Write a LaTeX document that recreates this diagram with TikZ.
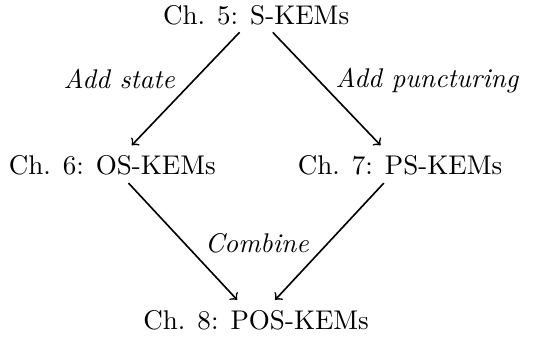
\documentclass[tikz,border=0pt]{standalone}
\usepackage{tikz}

\begin{document}
\begin{tikzpicture}[x=1cm,y=1cm,>=to,semithick,shorten >=1.5pt,
  chap/.style={inner sep=2.5pt},
  lbl/.style={font=\itshape,inner sep=2pt}]
\useasboundingbox (0,0) rectangle (7.215,4.394);
% chapters
\node[chap] (s)   at (3.33,4.20) {Ch. 5: S-KEMs};
\node[chap] (os)  at (1.46,2.24) {Ch. 6: OS-KEMs};
\node[chap] (ps)  at (5.20,2.24) {Ch. 7: PS-KEMs};
\node[chap] (pos) at (3.33,0.23) {Ch. 8: POS-KEMs};
% what each step adds
\node[lbl] (state) at (1.55,3.37) {Add state};
\node[lbl] (punct) at (5.55,3.35) {Add puncturing};
\node[lbl] (comb)  at (3.34,1.23) {Combine};
\draw[->] (s) -- (os);
\draw[->] (s) -- (ps);
\draw[->] (os) -- (pos);
\draw[->] (ps) -- (pos);
\end{tikzpicture}
\end{document}
